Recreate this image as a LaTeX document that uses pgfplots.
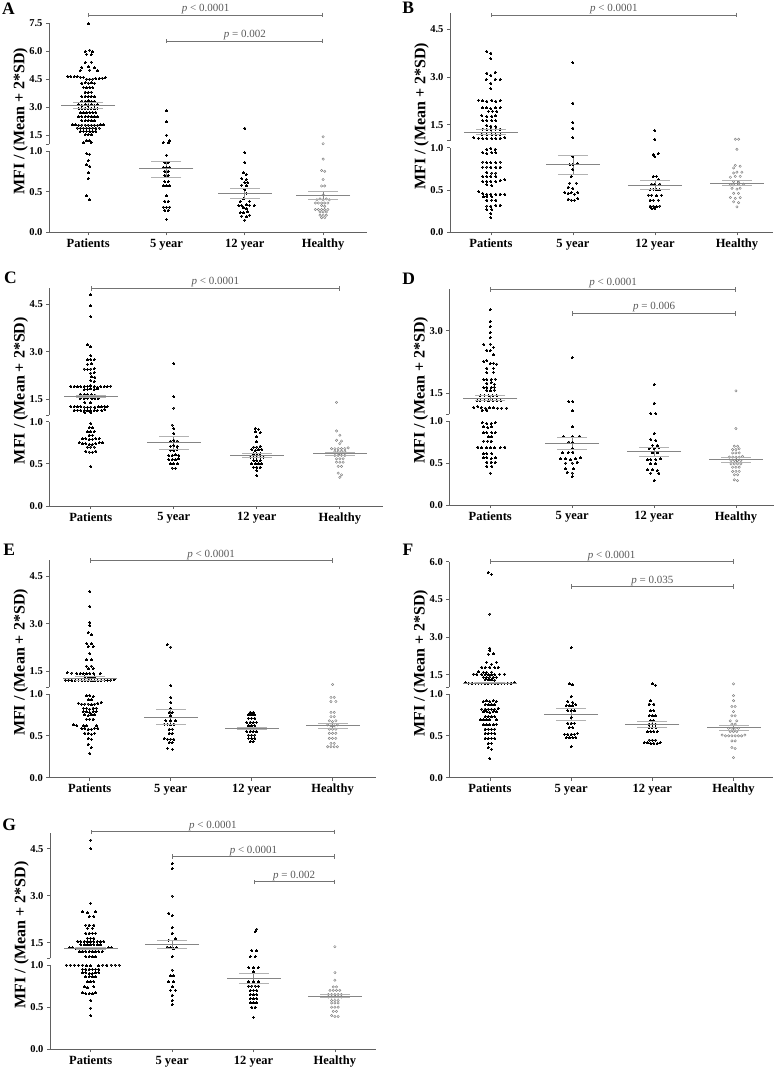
\documentclass[border=0pt]{standalone}
\usepackage{fontspec}
\setmainfont{Liberation Serif}
\usepackage{pgfplots}
\pgfplotsset{compat=1.18}
\usetikzlibrary{arrows.meta}
\definecolor{axcol}{gray}{0.38}
\definecolor{brcol}{gray}{0.45}
\definecolor{ptcol}{gray}{0.35}
\definecolor{meancol}{gray}{0.52}
\definecolor{semcol}{gray}{0.7}
\definecolor{opencol}{gray}{0.5}
\newcommand{\fs}[1]{\fontsize{#1}{#1}\selectfont}
\tikzset{brk/.style={draw=brcol, line width=0.7pt, {Bar[width=4.5pt]}-{Bar[width=4.5pt]}}}
\pgfplotsset{
  swarm/.style={scale only axis, clip=false, anchor=south west, xmin=-0.5, ymin=0,
    axis x line*=bottom, axis y line*=left, y axis line style={draw=none},
    x axis line style={axcol, line width=0.8pt},
    tick align=outside, major tick length=3pt, tick style={axcol, line width=0.8pt},
    xtick={0,1,2,3}, xticklabels={Patients,5 year,12 year,Healthy},
    xticklabel style={font=\bfseries\fs{12.5}},
    yticklabel style={font=\bfseries\fs{10.5}},
    ylabel={MFI / (Mean + 2*SD)},
    every axis y label/.style={at={([xshift=-28.5pt]axis description cs:0,0.53)}, rotate=90, anchor=center, font=\bfseries\fs{16}}},
  dots/.style={only marks, mark=*, mark size=1.0pt, mark options={fill=black, draw=black, line width=0pt}},
  open/.style={only marks, mark=o, mark size=1.2pt, mark options={draw=opencol, line width=0.45pt}},
  meanl/.style={only marks, mark=-, mark size=27pt, mark options={draw=meancol, line width=1pt}},
  seml/.style={meancol, line width=0.8pt, mark=-, mark size=15pt, mark options={draw=semcol, line width=0.9pt}},
}
\newcommand{\sem}[3]{\addplot[seml] coordinates {(#1,#2) (#1,#3)};}
\newcommand{\yax}[1]{\draw[axcol, line width=0.8pt] (axis cs:-0.5,0) -- (axis cs:-0.5,1) (axis cs:-0.5,1.08) -- (axis cs:-0.5,#1);}
\newcommand{\pbr}[4]{\draw[brk] (axis cs:#1,#3) -- node[above=0.8pt, inner sep=0pt, font=\fs{11}, text=ptcol]{#4} (axis cs:#2,#3);}
\begin{document}
\begin{tikzpicture}
\path[use as bounding box] (0pt,0pt) rectangle (780pt,-1069pt);
% ---------------- A
\begin{axis}[swarm, at={(49pt,-232.3pt)}, width=318pt, height=209.4pt, xmax=3.56, ymax=2.575,
  y filter/.expression={y<=1 ? y : 1.08+(y-1)*0.23},
  ytick={0,0.5,1,1.08,1.195,1.54,1.885,2.23,2.575}, yticklabels={0.0,0.5,1.0,{},1.5,3.0,4.5,6.0,7.5}]
\addplot[dots] coordinates {(0,7.45) (0.02,6.05) (-0.04,5.97) (0.06,5.95) (-0.02,5.82) (0.04,5.8) (-0.04,5.38) (0.04,5.4)
 (-0.08,5.12) (0,5.15) (0.08,5.1) (-0.1,4.95) (0.02,4.97) (0.12,4.95)
 (-0.26,4.64) (-0.22,4.63) (-0.18,4.62) (-0.14,4.62) (-0.1,4.6) (-0.06,4.6)
 (-0.02,4.5) (0.02,4.5) (0.06,4.5) (0.1,4.52) (0.14,4.53) (0.18,4.55) (0.22,4.58)
 (-0.08,4.28) (-0.04,4.3) (0,4.28) (0.04,4.3) (0.08,4.28) (-0.06,4.05) (-0.02,4.03) (0.02,4.05) (0.06,4.03)
 (-0.04,3.8) (0,3.78) (0.04,3.8) (-0.08,3.55) (-0.04,3.57) (0,3.55) (0.04,3.57) (0.08,3.55)
 (-0.08,3.32) (-0.04,3.3) (0,3.33) (0.04,3.3) (0.08,3.32)
 (-0.12,3.12) (-0.08,3.1) (-0.04,3.12) (0,3.1) (0.04,3.12) (0.08,3.1) (0.12,3.12)
 (-0.12,2.93) (-0.08,2.91) (-0.04,2.93) (0,2.91) (0.04,2.93) (0.08,2.91) (0.12,2.93)
 (-0.1,2.7) (-0.06,2.7) (-0.02,2.7) (0.02,2.7) (0.06,2.7) (0.1,2.7)
 (-0.12,2.48) (-0.08,2.48) (-0.04,2.48) (0,2.48) (0.04,2.48) (0.08,2.48) (0.12,2.48)
 (-0.08,2.27) (-0.04,2.27) (0,2.27) (0.04,2.27) (0.08,2.27)
 (-0.2,2.05) (-0.16,2.05) (-0.12,2.04) (-0.08,2.04) (-0.04,2.04) (0,2.04) (0.04,2.04) (0.08,2.04) (0.12,2.04) (0.16,2.05) (0.2,2.05)
 (-0.14,1.88) (-0.1,1.88) (-0.06,1.88) (-0.02,1.88) (0.02,1.88) (0.06,1.88) (0.1,1.88) (0.14,1.88)
 (-0.1,1.7) (-0.06,1.7) (-0.02,1.7) (0.02,1.7) (0.06,1.7) (0.1,1.7) (-0.04,1.52) (0,1.52) (0.04,1.52)
 (-0.02,1.2) (0.02,1.2) (-0.06,1.08) (0.04,1.1)
 (-0.02,0.97) (0.02,0.96) (0,0.88) (-0.02,0.83) (0.02,0.81) (0,0.73) (0,0.66) (-0.02,0.45) (0.02,0.4)};
\addplot[dots] coordinates {(1,2.79) (1,2.21) (1,1.5) (1.04,1.2) (0.96,1.1) (1.02,1.08) (1,0.95) (0.98,0.86) (1.02,0.86)
 (0.96,0.8) (1,0.8) (1.04,0.8) (0.98,0.75) (1.02,0.75) (0.98,0.7) (1.02,0.7) (0.98,0.62) (1.02,0.62) (0.96,0.57) (1,0.57) (1.04,0.57)
 (1,0.45) (0.98,0.38) (1.02,0.38) (0.96,0.31) (1,0.31) (1.04,0.31) (0.98,0.27) (1.02,0.27) (1,0.16)};
\addplot[dots] coordinates {(2,1.87) (2,0.98) (2,0.86) (1.98,0.73) (2.02,0.71) (1.96,0.66) (2.02,0.65) (2,0.61) (2.04,0.61)
 (1.96,0.58) (2.02,0.57) (2,0.53) (2.02,0.48) (1.98,0.41) (1.94,0.38) (2.06,0.38) (1.92,0.33) (1.96,0.33) (2.02,0.34) (2.06,0.33)
 (2.12,0.33) (1.98,0.3) (2.02,0.29) (1.94,0.24) (1.98,0.24) (2.04,0.25) (1.96,0.2) (2.02,0.19) (2.06,0.21) (2,0.15)};
\addplot[open] coordinates {(3,1.41) (3,1.04) (3,0.9) (2.98,0.76) (3.02,0.75) (3,0.65) (2.98,0.57) (3.02,0.57) (3,0.46)
 (2.92,0.4) (2.96,0.41) (3,0.4) (3.04,0.41) (3.08,0.4) (2.9,0.36) (2.94,0.36) (2.98,0.36) (3.02,0.36) (3.06,0.36)
 (2.98,0.33) (3.02,0.32) (2.9,0.28) (2.94,0.28) (2.98,0.28) (3.02,0.28) (3.06,0.28) (2.96,0.25) (3,0.25) (3.04,0.25)
 (2.96,0.21) (3,0.21) (3.04,0.21) (2.98,0.18) (3.02,0.18)};
\sem{0}{2.91}{3.23}\sem{1}{0.67}{0.87}\sem{2}{0.42}{0.54}\sem{3}{0.41}{0.5}
\addplot[meanl] coordinates {(0,3.07) (1,0.78) (2,0.48) (3,0.45)};
\yax{2.575}
\pbr{0}{3}{2.673}{\textit{p} < 0.0001}
\pbr{1}{3}{2.353}{\textit{p} = 0.002}
\end{axis}
% ---------------- B
\begin{axis}[swarm, at={(450pt,-232.3pt)}, width=323pt, height=219.2pt, xmax=3.44, ymax=2.588,
  y filter/.expression={y<=1 ? y : 1.08+(y-1)*0.377},
  ytick={0,0.5,1,1.08,1.2685,1.834,2.3995}, yticklabels={0.0,0.5,1.0,{},1.5,3.0,4.5}]
\addplot[dots] coordinates {(-0.05,3.8) (0,3.75) (0,3.57) (-0.05,3.12) (0,3.05) (0.05,3.15) (-0.06,2.92) (0,2.8) (0.05,2.93) (0.11,2.92) (0,2.63)
 (-0.15,2.27) (-0.1,2.25) (-0.05,2.24) (0.01,2.27) (0.06,2.24) (0.11,2.25)
 (-0.1,2.03) (-0.05,2.03) (0,2.0) (0.06,2.03) (0.11,2.03) (-0.03,1.92) (0.02,1.93) (0.07,1.92)
 (-0.11,1.78) (-0.05,1.76) (0.01,1.77) (0.06,1.78) (-0.1,1.63) (-0.05,1.64) (0.01,1.63) (0.06,1.63)
 (-0.05,1.48) (0,1.46) (0.06,1.45) (-0.1,1.37) (-0.05,1.36) (0,1.37) (0.06,1.37) (0.11,1.37)
 (-0.11,1.2) (-0.05,1.2) (0.01,1.2) (0.06,1.19) (0.11,1.19)
 (-0.21,1.1) (-0.15,1.08) (-0.1,1.07) (-0.05,1.07) (0.01,1.07) (0.06,1.07) (0.11,1.08) (0.17,1.1)
 (-0.05,0.98) (0,0.99) (0.05,0.98) (-0.1,0.94) (-0.05,0.93) (0.01,0.94) (0.06,0.94)
 (-0.1,0.83) (-0.05,0.82) (0,0.82) (0.06,0.82) (0.11,0.83) (-0.1,0.77) (-0.05,0.77) (0,0.77) (0.06,0.77) (0.11,0.77)
 (-0.05,0.71) (0.01,0.7) (0.06,0.7) (-0.1,0.66) (-0.05,0.66) (0,0.66) (0.06,0.66)
 (-0.1,0.6) (-0.05,0.6) (0,0.6) (0.06,0.6) (0.11,0.61) (0.17,0.62) (-0.05,0.56) (0.01,0.55)
 (-0.15,0.48) (-0.1,0.46) (-0.05,0.45) (0,0.45) (0.06,0.45) (0.11,0.45) (0.17,0.45) (-0.09,0.42) (-0.05,0.42) (0.01,0.42)
 (-0.05,0.38) (0.01,0.38) (0.06,0.38) (-0.05,0.31) (0,0.31) (0.06,0.32) (0.11,0.32) (-0.05,0.27) (0.01,0.27) (0,0.22) (0,0.17)};
\addplot[dots] coordinates {(1,3.44) (1,2.18) (1,1.57) (1,1.4) (1,1.1) (1,0.89) (0.96,0.8) (1,0.8) (1.05,0.81) (1,0.74) (0.98,0.66)
 (0.96,0.58) (1.04,0.58) (0.94,0.53) (1,0.52) (0.9,0.47) (0.94,0.46) (0.98,0.47) (1.02,0.45) (1.06,0.47) (0.94,0.39) (0.98,0.38) (1.02,0.38) (1.06,0.4)};
\addplot[dots] coordinates {(2,1.32) (2,1.05) (1.98,0.92) (2.04,0.93) (2,0.89) (1.98,0.66) (2.02,0.66) (2.04,0.62) (1.96,0.57) (2,0.56) (2.06,0.57)
 (1.94,0.5) (1.98,0.51) (2.02,0.5) (2.06,0.5) (1.92,0.44) (1.96,0.44) (2.02,0.43) (2.08,0.44) (1.94,0.38) (1.98,0.38) (2.04,0.38)
 (1.94,0.31) (1.98,0.31) (2.02,0.3) (2.06,0.31) (1.96,0.28) (2,0.28)};
\addplot[open] coordinates {(2.98,1.05) (3.02,1.05) (3,0.98) (2.98,0.79) (3.04,0.78) (2.96,0.76) (2.96,0.7) (3,0.71) (3.06,0.71)
 (2.92,0.65) (2.98,0.66) (3.04,0.66) (2.96,0.6) (3.02,0.59) (2.92,0.56) (2.96,0.56) (3.02,0.57) (3.08,0.57) (2.94,0.52) (3,0.51) (3.04,0.52)
 (2.96,0.46) (3.02,0.46) (2.92,0.41) (2.98,0.4) (3.04,0.41) (2.96,0.36) (3.02,0.35) (3,0.3)};
\sem{0}{1.2}{1.35}\sem{1}{0.68}{0.91}\sem{2}{0.51}{0.61}\sem{3}{0.55}{0.61}
\addplot[meanl] coordinates {(0,1.27) (1,0.8) (2,0.555) (3,0.58)};
\yax{2.588}
\pbr{0}{3}{2.566}{\textit{p} < 0.0001}
\end{axis}
% ---------------- C
\begin{axis}[swarm, at={(49.3pt,-506pt)}, width=333.7pt, height=217.8pt, xmax=3.52, ymax=2.584,
  y filter/.expression={y<=1 ? y : 1.08+(y-1)*0.376},
  ytick={0,0.5,1,1.08,1.268,1.832,2.396}, yticklabels={0.0,0.5,1.0,{},1.5,3.0,4.5}]
\addplot[dots] coordinates {(0,4.79) (0,4.44) (0,4.1) (-0.04,3.21) (0,3.15) (0,2.87) (-0.04,2.74) (0,2.75) (0.04,2.74) (-0.04,2.6) (0.01,2.61)
 (-0.08,2.45) (-0.04,2.44) (0,2.45) (0.04,2.46) (0,2.32) (0.04,2.33) (0.01,2.2) (0.05,2.19) (0,2.08) (0.04,2.06)
 (-0.24,1.91) (-0.2,1.9) (-0.16,1.89) (-0.12,1.89) (-0.08,1.9) (-0.04,1.9) (0,1.92) (0.04,1.9) (0.08,1.88) (0.12,1.9) (0.16,1.89) (0.2,1.9) (0.24,1.91)
 (-0.08,1.8) (-0.04,1.81) (0,1.82) (0.04,1.81) (0.08,1.83) (-0.13,1.65) (-0.08,1.65) (-0.04,1.65) (0.01,1.64) (0.05,1.63)
 (-0.13,1.52) (-0.08,1.52) (-0.04,1.53) (0.01,1.52) (0.05,1.51) (0.09,1.52) (-0.07,1.39) (0,1.38)
 (-0.24,1.27) (-0.2,1.26) (-0.16,1.26) (-0.12,1.26) (-0.08,1.25) (-0.04,1.25) (0,1.25) (0.05,1.25) (0.09,1.26) (0.13,1.26) (0.17,1.27) (0.2,1.27)
 (-0.2,1.15) (-0.16,1.15) (-0.12,1.14) (-0.08,1.14) (-0.04,1.14) (0,1.13) (0.04,1.14) (0.08,1.14) (0.13,1.14) (0.17,1.16) (-0.07,1.08) (0,1.07)
 (0,0.98) (-0.02,0.93) (0.02,0.93) (-0.04,0.88) (0,0.88) (0.04,0.88) (-0.02,0.84) (0.02,0.84)
 (-0.1,0.8) (-0.06,0.8) (-0.02,0.79) (0.02,0.79) (0.06,0.8) (0.1,0.8)
 (-0.14,0.75) (-0.1,0.74) (-0.06,0.74) (-0.02,0.73) (0.02,0.73) (0.06,0.74) (0.1,0.75) (0.14,0.75)
 (-0.04,0.7) (0,0.7) (0.04,0.7) (-0.06,0.65) (-0.02,0.64) (0.02,0.64) (0.06,0.65) (0,0.47)};
\addplot[dots] coordinates {(1,2.63) (1,1.58) (1,1.22) (0.98,0.96) (1,0.92) (1,0.86) (0.96,0.77) (1,0.78) (1.04,0.77) (0.96,0.71) (1,0.72) (1.04,0.71)
 (0.96,0.66) (1,0.66) (1.04,0.67) (0.94,0.6) (0.98,0.6) (1.02,0.61) (1.06,0.6) (0.94,0.55) (0.98,0.55) (1.02,0.55) (1.06,0.56)
 (0.96,0.5) (1,0.5) (1.04,0.5) (0.98,0.45) (1.02,0.45)};
\addplot[dots] coordinates {(1.98,0.92) (2.02,0.91) (1.98,0.88) (2.04,0.87) (2,0.82) (2,0.76) (1.96,0.7) (2,0.7) (2.04,0.71)
 (1.94,0.67) (1.98,0.66) (2.02,0.67) (2.06,0.67) (1.96,0.62) (2,0.62) (2.04,0.62) (1.92,0.58) (1.96,0.58) (2,0.58) (2.04,0.58) (2.08,0.58)
 (1.96,0.54) (2,0.54) (2.04,0.54) (1.94,0.5) (1.98,0.5) (2.02,0.5) (2.06,0.5) (1.96,0.46) (2,0.46) (2.04,0.46) (2,0.42) (2,0.36)};
\addplot[open] coordinates {(2.96,1.4) (2.96,0.89) (3,0.84) (2.96,0.78) (3.02,0.77) (3,0.74) (2.9,0.68) (2.94,0.68) (2.98,0.68) (3.02,0.68) (3.06,0.68) (3.1,0.69)
 (2.94,0.65) (2.98,0.65) (3.02,0.65) (3.06,0.65) (2.94,0.6) (2.98,0.6) (3.02,0.6) (3.06,0.6) (2.96,0.56) (3,0.56) (3.04,0.56)
 (2.96,0.52) (3,0.52) (3.04,0.52) (2.98,0.47) (3.02,0.47) (2.98,0.39) (3.02,0.37) (3,0.34)};
\sem{0}{1.54}{1.62}\sem{1}{0.67}{0.83}\sem{2}{0.58}{0.62}\sem{3}{0.6}{0.64}
\addplot[meanl] coordinates {(0,1.58) (1,0.75) (2,0.6) (3,0.625)};
\yax{2.584}
\pbr{0}{3}{2.582}{\textit{p} < 0.0001}
\end{axis}
% ---------------- D
\begin{axis}[swarm, at={(449.3pt,-505pt)}, width=324.3pt, height=216.2pt, xmax=3.46, ymax=2.574,
  y filter/.expression={y<=1 ? y : 1.08+(y-1)*0.498},
  ytick={0,0.5,1,1.08,1.329,2.076}, yticklabels={0.0,0.5,1.0,{},1.5,3.0}]
\addplot[dots] coordinates {(0,3.5) (0,3.22) (0,3.1) (0,2.96) (0,2.83) (-0.08,2.67) (0,2.68) (0.04,2.6) (-0.04,2.53) (0,2.52) (0.04,2.42)
 (-0.08,2.26) (-0.04,2.28) (0,2.22) (0.04,2.22) (0.08,2.2) (-0.04,2.1) (0.04,2.1) (-0.04,1.99) (0.04,2.0)
 (-0.08,1.83) (-0.04,1.83) (0.01,1.83) (0.06,1.84) (-0.04,1.74) (0.01,1.75) (0.05,1.72) (-0.08,1.64) (-0.04,1.64) (0.01,1.64) (0.05,1.65)
 (-0.04,1.57) (0,1.56) (0.05,1.58) (-0.12,1.45) (-0.07,1.45) (-0.02,1.45) (0.03,1.45) (0.08,1.45)
 (-0.16,1.33) (-0.12,1.33) (-0.07,1.34) (-0.02,1.32) (0.03,1.33) (0.08,1.33) (0.13,1.33)
 (-0.2,1.16) (-0.15,1.18) (-0.11,1.16) (-0.06,1.15) (-0.01,1.16) (0.04,1.16) (0.09,1.15) (0.14,1.15) (0.2,1.15) (-0.1,1.1) (-0.04,1.1)
 (-0.1,0.98) (-0.04,0.97) (0.01,0.97) (0.06,0.98) (-0.08,0.93) (-0.03,0.92) (0.02,0.93) (-0.08,0.86) (-0.04,0.86) (0.02,0.86) (0.06,0.86)
 (-0.02,0.81) (0.02,0.81) (-0.08,0.76) (-0.03,0.76) (0.01,0.76) (-0.15,0.69) (-0.11,0.68) (-0.05,0.68) (0,0.68) (0.05,0.68) (0.12,0.68) (0.18,0.69)
 (-0.08,0.61) (-0.04,0.61) (0.02,0.61) (-0.08,0.56) (-0.04,0.56) (0.01,0.55) (0.06,0.56) (-0.04,0.51) (0.01,0.51) (0.06,0.51)
 (-0.04,0.46) (0.02,0.46) (0,0.38)};
\addplot[dots] coordinates {(1,2.36) (0.96,1.3) (1.01,1.3) (1,1.08) (1,0.93) (0.9,0.81) (1,0.81) (1.09,0.82) (0.96,0.75) (1.01,0.74) (1,0.67)
 (0.88,0.62) (0.95,0.62) (1.01,0.63) (0.86,0.55) (0.92,0.55) (0.98,0.54) (1.04,0.55) (1.1,0.56) (0.92,0.5) (1,0.5) (1.06,0.51)
 (0.92,0.43) (1.02,0.43) (0.94,0.39) (1,0.38) (1,0.34)};
\addplot[dots] coordinates {(2,1.71) (2,1.26) (1.96,1.02) (2.02,1.02) (2,0.85) (1.96,0.78) (2.02,0.77) (1.98,0.71) (2.04,0.71) (1.94,0.67) (2,0.67) (2.06,0.68)
 (1.98,0.62) (2.04,0.62) (1.92,0.54) (1.96,0.54) (2.02,0.54) (2.08,0.55) (1.96,0.49) (2.02,0.49) (1.92,0.42) (1.98,0.42) (2.04,0.41)
 (1.96,0.38) (2.06,0.38) (2,0.29)};
\addplot[open] coordinates {(3,1.56) (3,0.91) (2.98,0.7) (3.02,0.7) (2.96,0.66) (3,0.66) (3.04,0.67) (2.96,0.62) (3,0.62) (3.04,0.62)
 (2.92,0.57) (2.96,0.57) (3,0.57) (3.04,0.57) (3.08,0.58) (2.94,0.53) (2.98,0.53) (3.02,0.53) (3.06,0.53) (2.94,0.49) (2.98,0.49) (3.02,0.49) (3.06,0.49)
 (2.96,0.45) (3,0.45) (3.04,0.45) (2.96,0.4) (3,0.4) (3.04,0.4) (2.98,0.36) (3.02,0.36) (2.98,0.3) (3.02,0.29)};
\sem{0}{1.32}{1.44}\sem{1}{0.66}{0.81}\sem{2}{0.58}{0.68}\sem{3}{0.51}{0.57}
\addplot[meanl] coordinates {(0,1.38) (1,0.73) (2,0.635) (3,0.54)};
\yax{2.574}
\pbr{0}{3}{2.568}{\textit{p} < 0.0001}
\pbr{1}{3}{2.282}{\textit{p} = 0.006}
\end{axis}
% ---------------- E
\begin{axis}[swarm, at={(49.3pt,-777.7pt)}, width=327pt, height=217.3pt, xmax=3.54, ymax=2.596,
  y filter/.expression={y<=1 ? y : 1.08+(y-1)*0.379},
  ytick={0,0.5,1,1.08,1.2695,1.838,2.4065}, yticklabels={0.0,0.5,1.0,{},1.5,3.0,4.5}]
\addplot[dots] coordinates {(0,4.02) (0,3.55) (0,3.05) (0,2.95) (-0.02,2.72) (0.02,2.66) (-0.04,2.38) (0.02,2.37) (-0.02,2.29) (0.04,2.28) (0,2.06)
 (-0.04,1.87) (0.02,1.87) (-0.04,1.67) (0.02,1.67) (-0.02,1.58) (0.04,1.58)
 (-0.28,1.46) (-0.22,1.45) (-0.16,1.44) (-0.12,1.43) (-0.08,1.43) (-0.04,1.43) (0,1.44) (0.05,1.43) (0.13,1.44)
 (-0.06,1.33) (-0.02,1.32) (0.02,1.32) (0.06,1.33)
 (-0.3,1.23) (-0.26,1.23) (-0.22,1.22) (-0.18,1.22) (-0.14,1.22) (-0.1,1.21) (-0.06,1.21) (-0.02,1.21) (0.02,1.21) (0.06,1.21) (0.1,1.21) (0.14,1.22) (0.18,1.22) (0.22,1.22) (0.26,1.23) (0.3,1.24)
 (-0.04,0.98) (0,0.98) (0.04,0.97) (-0.02,0.93) (0.02,0.93)
 (-0.14,0.89) (-0.1,0.88) (-0.06,0.88) (-0.02,0.88) (0.02,0.87) (0.06,0.88) (0.1,0.89) (0.14,0.9)
 (-0.08,0.83) (-0.04,0.83) (0,0.82) (0.04,0.83) (0.08,0.83) (-0.08,0.79) (-0.04,0.79) (0,0.78) (0.04,0.79) (0.08,0.79)
 (-0.06,0.75) (-0.02,0.74) (0.02,0.75) (0.06,0.75) (-0.04,0.7) (0,0.7) (0.04,0.7)
 (-0.2,0.63) (-0.16,0.62) (-0.08,0.62) (-0.04,0.62) (0.08,0.62) (-0.1,0.59) (-0.06,0.59) (-0.02,0.58) (0.02,0.58) (0.06,0.59) (0.1,0.59)
 (-0.06,0.53) (-0.02,0.53) (0.02,0.52) (0.06,0.53) (-0.02,0.47) (0.02,0.46) (-0.02,0.4) (0.02,0.36) (0,0.29)};
\addplot[dots] coordinates {(0.96,2.35) (1,2.27) (1,1.06) (1,0.96) (1,0.9) (1,0.83) (0.98,0.78) (1.02,0.78) (1,0.74) (0.94,0.68) (1,0.68) (1.06,0.68)
 (0.92,0.64) (0.96,0.64) (1,0.63) (1.04,0.64) (0.98,0.58) (1.02,0.58) (0.98,0.53) (1.02,0.53) (0.92,0.47) (0.96,0.46) (1,0.46) (1.04,0.46)
 (0.98,0.42) (1.02,0.42) (0.96,0.35) (1.02,0.34)};
\addplot[dots] coordinates {(1.98,0.78) (2.02,0.78) (1.96,0.75) (2,0.75) (2.04,0.75) (1.96,0.71) (2,0.71) (2.04,0.71) (1.94,0.66) (1.98,0.66) (2.02,0.66) (2.06,0.66)
 (1.96,0.62) (2,0.62) (2.04,0.62) (1.92,0.59) (1.96,0.59) (2,0.59) (2.04,0.59) (2.08,0.59) (1.94,0.55) (1.98,0.55) (2.02,0.55) (2.06,0.55)
 (1.96,0.51) (2,0.51) (2.04,0.51) (1.96,0.47) (2,0.47) (2.04,0.47) (1.98,0.43) (2.02,0.43)};
\addplot[open] coordinates {(3,1.09) (2.98,0.96) (3.02,0.96) (2.98,0.91) (3.04,0.91) (2.98,0.78) (3.02,0.78) (2.98,0.73) (3.02,0.73)
 (2.96,0.68) (3,0.67) (3.04,0.68) (2.94,0.63) (2.98,0.62) (3.02,0.62) (3.06,0.63) (2.96,0.58) (3,0.58) (3.04,0.58)
 (2.96,0.53) (3,0.53) (3.04,0.53) (2.96,0.47) (3,0.47) (3.04,0.47) (2.98,0.41) (3.02,0.41) (2.94,0.37) (2.98,0.37) (3.02,0.37) (3.06,0.37)};
\sem{0}{1.21}{1.33}\sem{1}{0.64}{0.81}\sem{2}{0.575}{0.605}\sem{3}{0.59}{0.65}
\addplot[meanl] coordinates {(0,1.27) (1,0.72) (2,0.59) (3,0.62)};
\yax{2.596}
\pbr{0}{3}{2.593}{\textit{p} < 0.0001}
\end{axis}
% ---------------- F
\begin{axis}[swarm, at={(449.3pt,-777.7pt)}, width=324pt, height=215.9pt, xmax=3.49, ymax=2.58,
  y filter/.expression={y<=1 ? y : 1.08+(y-1)*0.3},
  ytick={0,0.5,1,1.08,1.23,1.68,2.13,2.58}, yticklabels={0.0,0.5,1.0,{},1.5,3.0,4.5,6.0}]
\addplot[dots] coordinates {(-0.02,5.58) (0.02,5.5) (0,3.92) (0,2.56) (0,2.47) (-0.02,2.32) (0.04,2.33) (-0.04,2.0) (0.02,1.92) (0.08,2.0)
 (-0.1,1.8) (-0.06,1.79) (0,1.8) (0.06,1.78) (0.1,1.8) (-0.14,1.62) (-0.08,1.6) (-0.04,1.6) (0.02,1.61)
 (-0.2,1.53) (-0.16,1.52) (-0.1,1.51) (-0.06,1.5) (-0.02,1.5) (0.02,1.5) (0.06,1.51) (0.12,1.52) (0.18,1.53)
 (-0.08,1.4) (-0.04,1.4) (0,1.41) (0.04,1.4) (0.08,1.4) (-0.06,1.3) (-0.02,1.3) (0.02,1.3) (0.06,1.29)
 (-0.3,1.18) (-0.26,1.17) (-0.22,1.17) (-0.18,1.17) (-0.14,1.17) (-0.1,1.17) (-0.06,1.16) (-0.02,1.16) (0.02,1.16) (0.06,1.16) (0.1,1.17) (0.14,1.17) (0.18,1.17) (0.22,1.17) (0.26,1.17) (0.3,1.18)
 (-0.08,0.91) (-0.04,0.92) (0,0.91) (0.04,0.92) (0.08,0.91) (-0.06,0.87) (-0.02,0.87) (0.02,0.87) (0.06,0.87)
 (-0.1,0.82) (-0.06,0.82) (-0.02,0.82) (0.02,0.82) (0.06,0.82) (0.1,0.83) (-0.08,0.79) (-0.04,0.79) (0,0.78) (0.04,0.79) (0.08,0.79)
 (-0.06,0.73) (-0.02,0.73) (0.02,0.73) (0.06,0.73) (-0.12,0.69) (-0.08,0.69) (-0.04,0.69) (0,0.69) (0.08,0.69)
 (-0.08,0.63) (-0.04,0.63) (0,0.63) (0.04,0.63) (0.08,0.64) (-0.06,0.58) (-0.02,0.58) (0.02,0.58) (0.06,0.58)
 (-0.06,0.53) (-0.02,0.53) (0.02,0.53) (0.06,0.53) (-0.06,0.47) (-0.02,0.47) (0.02,0.47) (0.06,0.47)
 (-0.02,0.41) (0.02,0.41) (-0.02,0.36) (0.02,0.34) (0,0.23)};
\addplot[dots] coordinates {(1,2.58) (0.98,1.14) (1.02,1.1) (1,0.97) (0.96,0.91) (1.02,0.9) (0.94,0.86) (0.98,0.86) (1.02,0.86) (1.06,0.87)
 (0.96,0.8) (1,0.8) (1.04,0.8) (1,0.72) (0.96,0.65) (1,0.65) (1.04,0.65) (0.98,0.6) (1.02,0.6) (0.92,0.52) (0.96,0.52) (1,0.52) (1.04,0.52) (1.08,0.53)
 (0.94,0.48) (0.98,0.48) (1.02,0.48) (1.06,0.48) (1,0.37)};
\addplot[dots] coordinates {(2,1.14) (2.04,1.09) (1.98,0.92) (1.96,0.88) (2.02,0.88) (1.98,0.8) (2.02,0.8) (1.96,0.74) (2,0.74) (2.04,0.74)
 (1.98,0.68) (2.02,0.68) (1.96,0.64) (2,0.64) (2.04,0.64) (1.96,0.6) (2,0.6) (2.04,0.6) (1.94,0.55) (1.98,0.55) (2.02,0.55) (2.06,0.55)
 (1.96,0.45) (2,0.45) (2.04,0.45) (1.9,0.42) (1.94,0.42) (1.98,0.41) (2.02,0.41) (2.06,0.41) (2.1,0.42)};
\addplot[open] coordinates {(3,1.14) (3,0.98) (3,0.92) (2.98,0.85) (3.02,0.85) (3,0.79) (2.98,0.74) (3.02,0.74) (2.96,0.68) (3.04,0.68)
 (2.98,0.64) (3.02,0.64) (2.94,0.59) (2.98,0.59) (3.02,0.59) (3.06,0.59) (2.96,0.55) (3,0.55) (3.04,0.55)
 (2.86,0.51) (2.9,0.5) (2.94,0.5) (2.98,0.5) (3.02,0.5) (3.06,0.5) (3.1,0.5) (3.14,0.51) (2.98,0.44) (3.02,0.44) (2.98,0.36) (3.02,0.35) (3,0.24)};
\sem{0}{1.14}{1.2}\sem{1}{0.69}{0.83}\sem{2}{0.6}{0.67}\sem{3}{0.57}{0.63}
\addplot[meanl] coordinates {(0,1.17) (1,0.76) (2,0.63) (3,0.6)};
\yax{2.58}
\pbr{0}{3}{2.581}{\textit{p} < 0.0001}
\pbr{1}{3}{2.282}{\textit{p} = 0.035}
\end{axis}
% ---------------- G
\begin{axis}[swarm, at={(50pt,-1049.3pt)}, width=325.6pt, height=216.1pt, xmax=3.5, ymax=2.564,
  y filter/.expression={y<=1 ? y : 1.08+(y-1)*0.371},
  ytick={0,0.5,1,1.08,1.2655,1.822,2.3795}, yticklabels={0.0,0.5,1.0,{},1.5,3.0,4.5}]
\addplot[dots] coordinates {(0,4.78) (0,4.51) (0,2.76) (-0.1,2.49) (-0.04,2.45) (0.06,2.49) (-0.02,2.33) (0.04,2.33) (-0.06,2.06) (-0.02,2.06) (0.04,2.06)
 (-0.04,1.96) (0.02,1.96) (-0.06,1.8) (-0.02,1.8) (0.02,1.8) (0.06,1.8) (-0.04,1.64) (0,1.64) (0.04,1.64)
 (-0.16,1.54) (-0.12,1.53) (-0.08,1.53) (-0.04,1.53) (0,1.53) (0.04,1.53) (0.08,1.53) (0.12,1.53) (0.16,1.54)
 (-0.12,1.43) (-0.08,1.43) (-0.04,1.43) (0,1.43) (0.04,1.43) (0.08,1.43) (0.12,1.43)
 (-0.26,1.33) (-0.22,1.33) (-0.18,1.32) (-0.14,1.32) (-0.1,1.32) (-0.06,1.32) (-0.02,1.32) (0.02,1.32) (0.06,1.32) (0.1,1.32) (0.14,1.32) (0.18,1.32) (0.22,1.33) (0.26,1.33)
 (-0.14,1.21) (-0.1,1.21) (-0.06,1.21) (-0.02,1.21) (0.02,1.21) (0.06,1.21) (0.1,1.21) (0.14,1.21) (-0.06,1.05) (-0.02,1.05) (0.02,1.05) (0.06,1.05)
 (-0.3,1) (-0.25,1) (-0.2,1) (-0.15,1) (-0.1,1) (-0.05,0.99) (0,0.99) (0.1,0.99) (0.15,1) (0.2,1) (0.25,1) (0.3,1) (0.35,1)
 (-0.1,0.95) (-0.06,0.95) (-0.02,0.95) (0.02,0.95) (0.06,0.95) (0.1,0.95) (-0.1,0.91) (-0.06,0.91) (-0.02,0.9) (0.02,0.9) (0.06,0.91) (0.1,0.91)
 (-0.06,0.86) (-0.02,0.86) (0.02,0.86) (0.06,0.86) (-0.04,0.8) (0,0.8) (0.04,0.8) (-0.08,0.74) (-0.04,0.73) (0.04,0.74)
 (-0.1,0.67) (-0.06,0.66) (-0.02,0.66) (0.02,0.66) (0.06,0.67) (0,0.58) (0,0.49) (0,0.4)};
\addplot[dots] coordinates {(1,4.03) (1,3.87) (1,2.99) (0.96,2.44) (1,2.36) (1,1.98) (1,1.8) (0.96,1.58) (1.04,1.62) (0.94,1.36) (0.98,1.35) (1.02,1.3) (1.06,1.33) (1,1.05)
 (1,0.94) (0.98,0.87) (1.02,0.87) (0.96,0.8) (1.02,0.8) (1,0.74) (0.98,0.7) (1.04,0.7) (1,0.64) (1,0.58) (1,0.53)};
\addplot[dots] coordinates {(2.04,1.93) (2.02,1.85) (1.98,1.25) (2.04,1.24) (1.96,1.05) (2.02,1.05) (1.94,0.97) (2,0.97) (2.06,0.97) (2,0.92)
 (1.94,0.8) (2,0.8) (2.06,0.8) (1.94,0.75) (1.98,0.75) (2.02,0.75) (2.06,0.75) (1.96,0.7) (2,0.7) (2.04,0.7) (1.96,0.65) (2,0.65) (2.04,0.65)
 (1.96,0.6) (2,0.6) (2.04,0.6) (1.96,0.55) (2,0.55) (2.04,0.55) (1.98,0.5) (2.02,0.5) (2,0.38)};
\addplot[open] coordinates {(3,1.37) (3,0.91) (3,0.82) (2.98,0.74) (3.02,0.74) (2.94,0.7) (2.98,0.7) (3.02,0.7) (3.06,0.7)
 (2.92,0.65) (2.96,0.65) (3,0.65) (3.04,0.65) (3.08,0.65) (2.92,0.62) (2.96,0.62) (3,0.62) (3.04,0.62) (3.08,0.62)
 (2.96,0.58) (3,0.58) (3.04,0.58) (2.96,0.55) (3,0.55) (3.04,0.55) (2.96,0.5) (3,0.5) (3.04,0.5) (2.98,0.45) (3.02,0.45) (2.96,0.4) (3,0.39) (3.04,0.39)};
\sem{0}{1.29}{1.36}\sem{1}{1.33}{1.56}\sem{2}{0.78}{0.9}\sem{3}{0.61}{0.655}
\addplot[meanl] coordinates {(0,1.32) (1,1.43) (2,0.84) (3,0.63)};
\yax{2.564}
\pbr{0}{3}{2.581}{\textit{p} < 0.0001}
\pbr{1}{3}{2.285}{\textit{p} < 0.0001}
\pbr{2}{3}{1.988}{\textit{p} = 0.002}
\end{axis}
% panel letters
\begin{scope}[every node/.style={font=\bfseries\fs{17.5}, inner sep=0pt}]
\node at (8.5pt,-9.2pt) {A};
\node at (408.3pt,-7.8pt) {B};
\node at (10.5pt,-277.8pt) {C};
\node at (408.8pt,-278.3pt) {D};
\node at (9.2pt,-549.7pt) {E};
\node at (408pt,-549.7pt) {F};
\node at (9.2pt,-824.7pt) {G};
\end{scope}
\end{tikzpicture}
\end{document}
